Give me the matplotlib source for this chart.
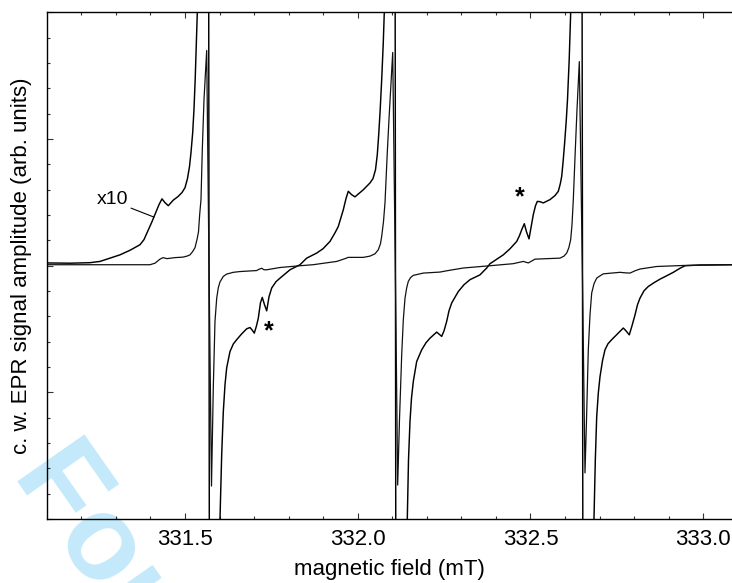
import matplotlib
matplotlib.use('Agg')
import matplotlib.pyplot as plt
from matplotlib.ticker import MultipleLocator, NullFormatter

plt.rcParams['font.family'] = ['Liberation Sans', 'DejaVu Sans']

# narrow (full scale) spectrum, field in mT, amplitude in arb. units
field_narrow = [331.1006, 331.3987, 331.4132, 331.4276, 331.4363, 331.4479, 331.4711, 331.4942,
                331.5058, 331.5145, 331.5217, 331.5289, 331.5347, 331.5391, 331.5425, 331.5463,
                331.5501, 331.5550, 331.5628, 331.5695, 331.5767, 331.5819, 331.5868, 331.5918,
                331.5964, 331.6013, 331.6109, 331.6207, 331.6398, 331.6592, 331.7075, 331.7142,
                331.7220, 331.7287, 331.7365, 331.7750, 331.8329, 331.8705, 331.9391, 331.9631,
                331.9726, 332.0161, 332.0355, 332.0499, 332.0595, 332.0658, 332.0693, 332.0745,
                332.0789, 332.0855, 332.0904, 332.1012, 332.1087, 332.1156, 332.1208, 332.1272,
                332.1319, 332.1368, 332.1417, 332.1463, 332.1527, 332.1608, 332.1897, 332.2381,
                332.2574, 332.3055, 332.3828, 332.4493, 332.4792, 332.4936, 332.5130, 332.5854,
                332.5970, 332.6048, 332.6109, 332.6163, 332.6201, 332.6239, 332.6297, 332.6346,
                332.6413, 332.6499, 332.6577, 332.6621, 332.6673, 332.6722, 332.6771, 332.6838,
                332.6916, 332.7012, 332.7107, 332.7590, 332.7735, 332.7880, 332.8025, 332.8169,
                332.8653, 332.9422, 333.0832]
signal_narrow = [0.004, 0.004, 0.010, 0.026, 0.032, 0.028, 0.032, 0.034,
                 0.038, 0.043, 0.055, 0.071, 0.103, 0.134, 0.202, 0.261,
                 0.458, 0.656, 0.850, 0.0, -0.870, -0.482, -0.220, -0.128,
                 -0.087, -0.064, -0.042, -0.033, -0.026, -0.023, -0.019, -0.014,
                 -0.010, -0.016, -0.016, -0.007, 0.0, 0.004, 0.017, 0.028,
                 0.033, 0.033, 0.038, 0.047, 0.063, 0.087, 0.116, 0.174,
                 0.249, 0.447, 0.577, 0.842, 0.0, -0.866, -0.609, -0.352,
                 -0.213, -0.128, -0.087, -0.062, -0.047, -0.038, -0.029, -0.025,
                 -0.020, -0.009, 0.0, 0.008, 0.017, 0.011, 0.026, 0.030,
                 0.038, 0.050, 0.071, 0.103, 0.162, 0.261, 0.458, 0.617,
                 0.806, 0.0, -0.818, -0.609, -0.332, -0.194, -0.108, -0.071,
                 -0.049, -0.040, -0.032, -0.026, -0.028, -0.029, -0.020, -0.013,
                 -0.003, 0.001, 0.004]

# same spectrum magnified x10
field_x10 = [331.1006, 331.1671, 331.2250, 331.2540, 331.2829, 331.3119, 331.3408, 331.3698,
             331.3813, 331.3929, 331.4045, 331.4161, 331.4247, 331.4334, 331.4421, 331.4517,
             331.4595, 331.4661, 331.4797, 331.4913, 331.5000, 331.5072, 331.5130, 331.5174,
             331.5223, 331.5260, 331.5295, 331.5339, 331.5368, 331.5628, 331.5695, 331.5767,
             331.5868, 331.6013, 331.6062, 331.6109, 331.6158, 331.6207, 331.6302, 331.6398,
             331.6496, 331.6641, 331.6786, 331.6881, 331.6939, 331.7006, 331.7070, 331.7122,
             331.7185, 331.7237, 331.7301, 331.7365, 331.7431, 331.7509, 331.7634, 331.7750,
             331.8039, 331.8329, 331.8522, 331.8812, 331.8994, 331.9197, 331.9342, 331.9437,
             331.9582, 331.9660, 331.9726, 331.9819, 331.9920, 332.0161, 332.0355, 332.0441,
             332.0514, 332.0566, 332.0607, 332.0650, 332.0693, 332.0737, 332.0768, 332.1012,
             332.1093, 332.1156, 332.1272, 332.1434, 332.1469, 332.1512, 332.1556, 332.1608,
             332.1706, 332.1851, 332.1976, 332.2091, 332.2285, 332.2430, 332.2497, 332.2574,
             332.2641, 332.2719, 332.2910, 332.3075, 332.3249, 332.3538, 332.3732, 332.3828,
             332.4002, 332.4213, 332.4407, 332.4601, 332.4682, 332.4745, 332.4821, 332.4884,
             332.4957, 332.5015, 332.5081, 332.5145, 332.5197, 332.5275, 332.5370, 332.5564,
             332.5709, 332.5805, 332.5863, 332.5903, 332.5941, 332.5984, 332.6033, 332.6071,
             332.6120, 332.6163, 332.6413, 332.6505, 332.6577, 332.6673, 332.6838, 332.6876,
             332.6916, 332.6963, 332.7012, 332.7084, 332.7156, 332.7243, 332.7350, 332.7504,
             332.7686, 332.7764, 332.7859, 332.7938, 332.8025, 332.8097, 332.8169, 332.8285,
             332.8409, 332.8575, 332.8748, 332.8937, 332.9133, 332.9327, 332.9472, 332.9906,
             333.0832]
signal_x10 = [0.011, 0.010, 0.012, 0.017, 0.030, 0.043, 0.061, 0.083,
              0.103, 0.138, 0.174, 0.213, 0.241, 0.264, 0.249, 0.237,
              0.249, 0.259, 0.273, 0.289, 0.308, 0.344, 0.391, 0.447,
              0.526, 0.617, 0.735, 0.921, 1.03, 8.5, 0.0, -8.7,
              -2.5, -1.0, -0.747, -0.576, -0.470, -0.403, -0.339, -0.309,
              -0.292, -0.269, -0.249, -0.244, -0.253, -0.266, -0.237, -0.207,
              -0.146, -0.125, -0.154, -0.178, -0.123, -0.088, -0.063, -0.049,
              -0.016, 0.004, 0.030, 0.050, 0.067, 0.096, 0.130, 0.155,
              0.221, 0.265, 0.294, 0.281, 0.272, 0.300, 0.327, 0.344,
              0.379, 0.439, 0.518, 0.617, 0.735, 0.874, 0.999, 8.4,
              0.0, -8.7, -3.5, -1.0, -0.767, -0.615, -0.522, -0.457,
              -0.378, -0.332, -0.304, -0.286, -0.262, -0.279, -0.257, -0.220,
              -0.178, -0.147, -0.102, -0.075, -0.055, -0.036, -0.009, 0.008,
              0.024, 0.043, 0.067, 0.096, 0.119, 0.142, 0.166, 0.134,
              0.106, 0.150, 0.202, 0.237, 0.254, 0.253, 0.248, 0.261,
              0.277, 0.294, 0.324, 0.353, 0.407, 0.478, 0.569, 0.656,
              0.814, 0.999, 8.1, 0.0, -8.2, -3.3, -0.996, -0.767,
              -0.596, -0.502, -0.438, -0.375, -0.332, -0.308, -0.292, -0.271,
              -0.246, -0.257, -0.273, -0.237, -0.194, -0.154, -0.128, -0.099,
              -0.082, -0.067, -0.053, -0.040, -0.026, -0.010, 0.0, 0.003,
              0.004]

fig = plt.figure(figsize=(7.32, 5.83), dpi=100)
ax = fig.add_axes([0.0642, 0.1098, 0.9358, 0.8688])
ax.patch.set_visible(False)

# journal watermark behind the plot
fig.text(0.016, 0.187, 'For Peer Review', rotation=-55, rotation_mode='anchor',
         ha='left', va='baseline', fontsize=86, fontweight='bold',
         color='#c4e9fa', zorder=-1)

ax.plot(field_x10, signal_x10, color='black', lw=1.05)
ax.plot(field_narrow, signal_narrow, color='#111111', lw=0.9)

ax.set_xlim(331.1006, 333.0832)
ax.set_ylim(-1, 1)

ax.xaxis.set_major_locator(MultipleLocator(0.5))
ax.xaxis.set_minor_locator(MultipleLocator(0.1))
ax.xaxis.set_major_formatter(plt.FormatStrFormatter('%.1f'))
ax.yaxis.set_major_locator(MultipleLocator(0.5))
ax.yaxis.set_minor_locator(MultipleLocator(0.1))
ax.yaxis.set_major_formatter(NullFormatter())

ax.tick_params(which='both', direction='in', top=True, right=False, width=0.8, color='#333333')
ax.tick_params(which='major', length=4.5, labelsize=16, pad=7)
ax.tick_params(which='minor', length=2.5)
ax.spines['right'].set_visible(False)
for s in ['left', 'top', 'bottom']:
    ax.spines[s].set_linewidth(1.0)

ax.set_xlabel('magnetic field (mT)', fontsize=16, labelpad=7)
ax.set_ylabel('c. w. EPR signal amplitude (arb. units)', fontsize=16, labelpad=3.5)

ax.annotate('x10', xy=(331.4103, 0.192), xytext=(331.2902, 0.261),
            ha='center', va='center', fontsize=14,
            arrowprops=dict(arrowstyle='-', lw=0.8, color='black',
                            relpos=(0.95, 0.1), shrinkA=0, shrinkB=0))
ax.text(331.743, -0.257, '*', ha='center', va='center', fontsize=18, fontweight='bold')
ax.text(332.470, 0.269, '*', ha='center', va='center', fontsize=18, fontweight='bold')

fig.savefig('out.png', dpi=100)
